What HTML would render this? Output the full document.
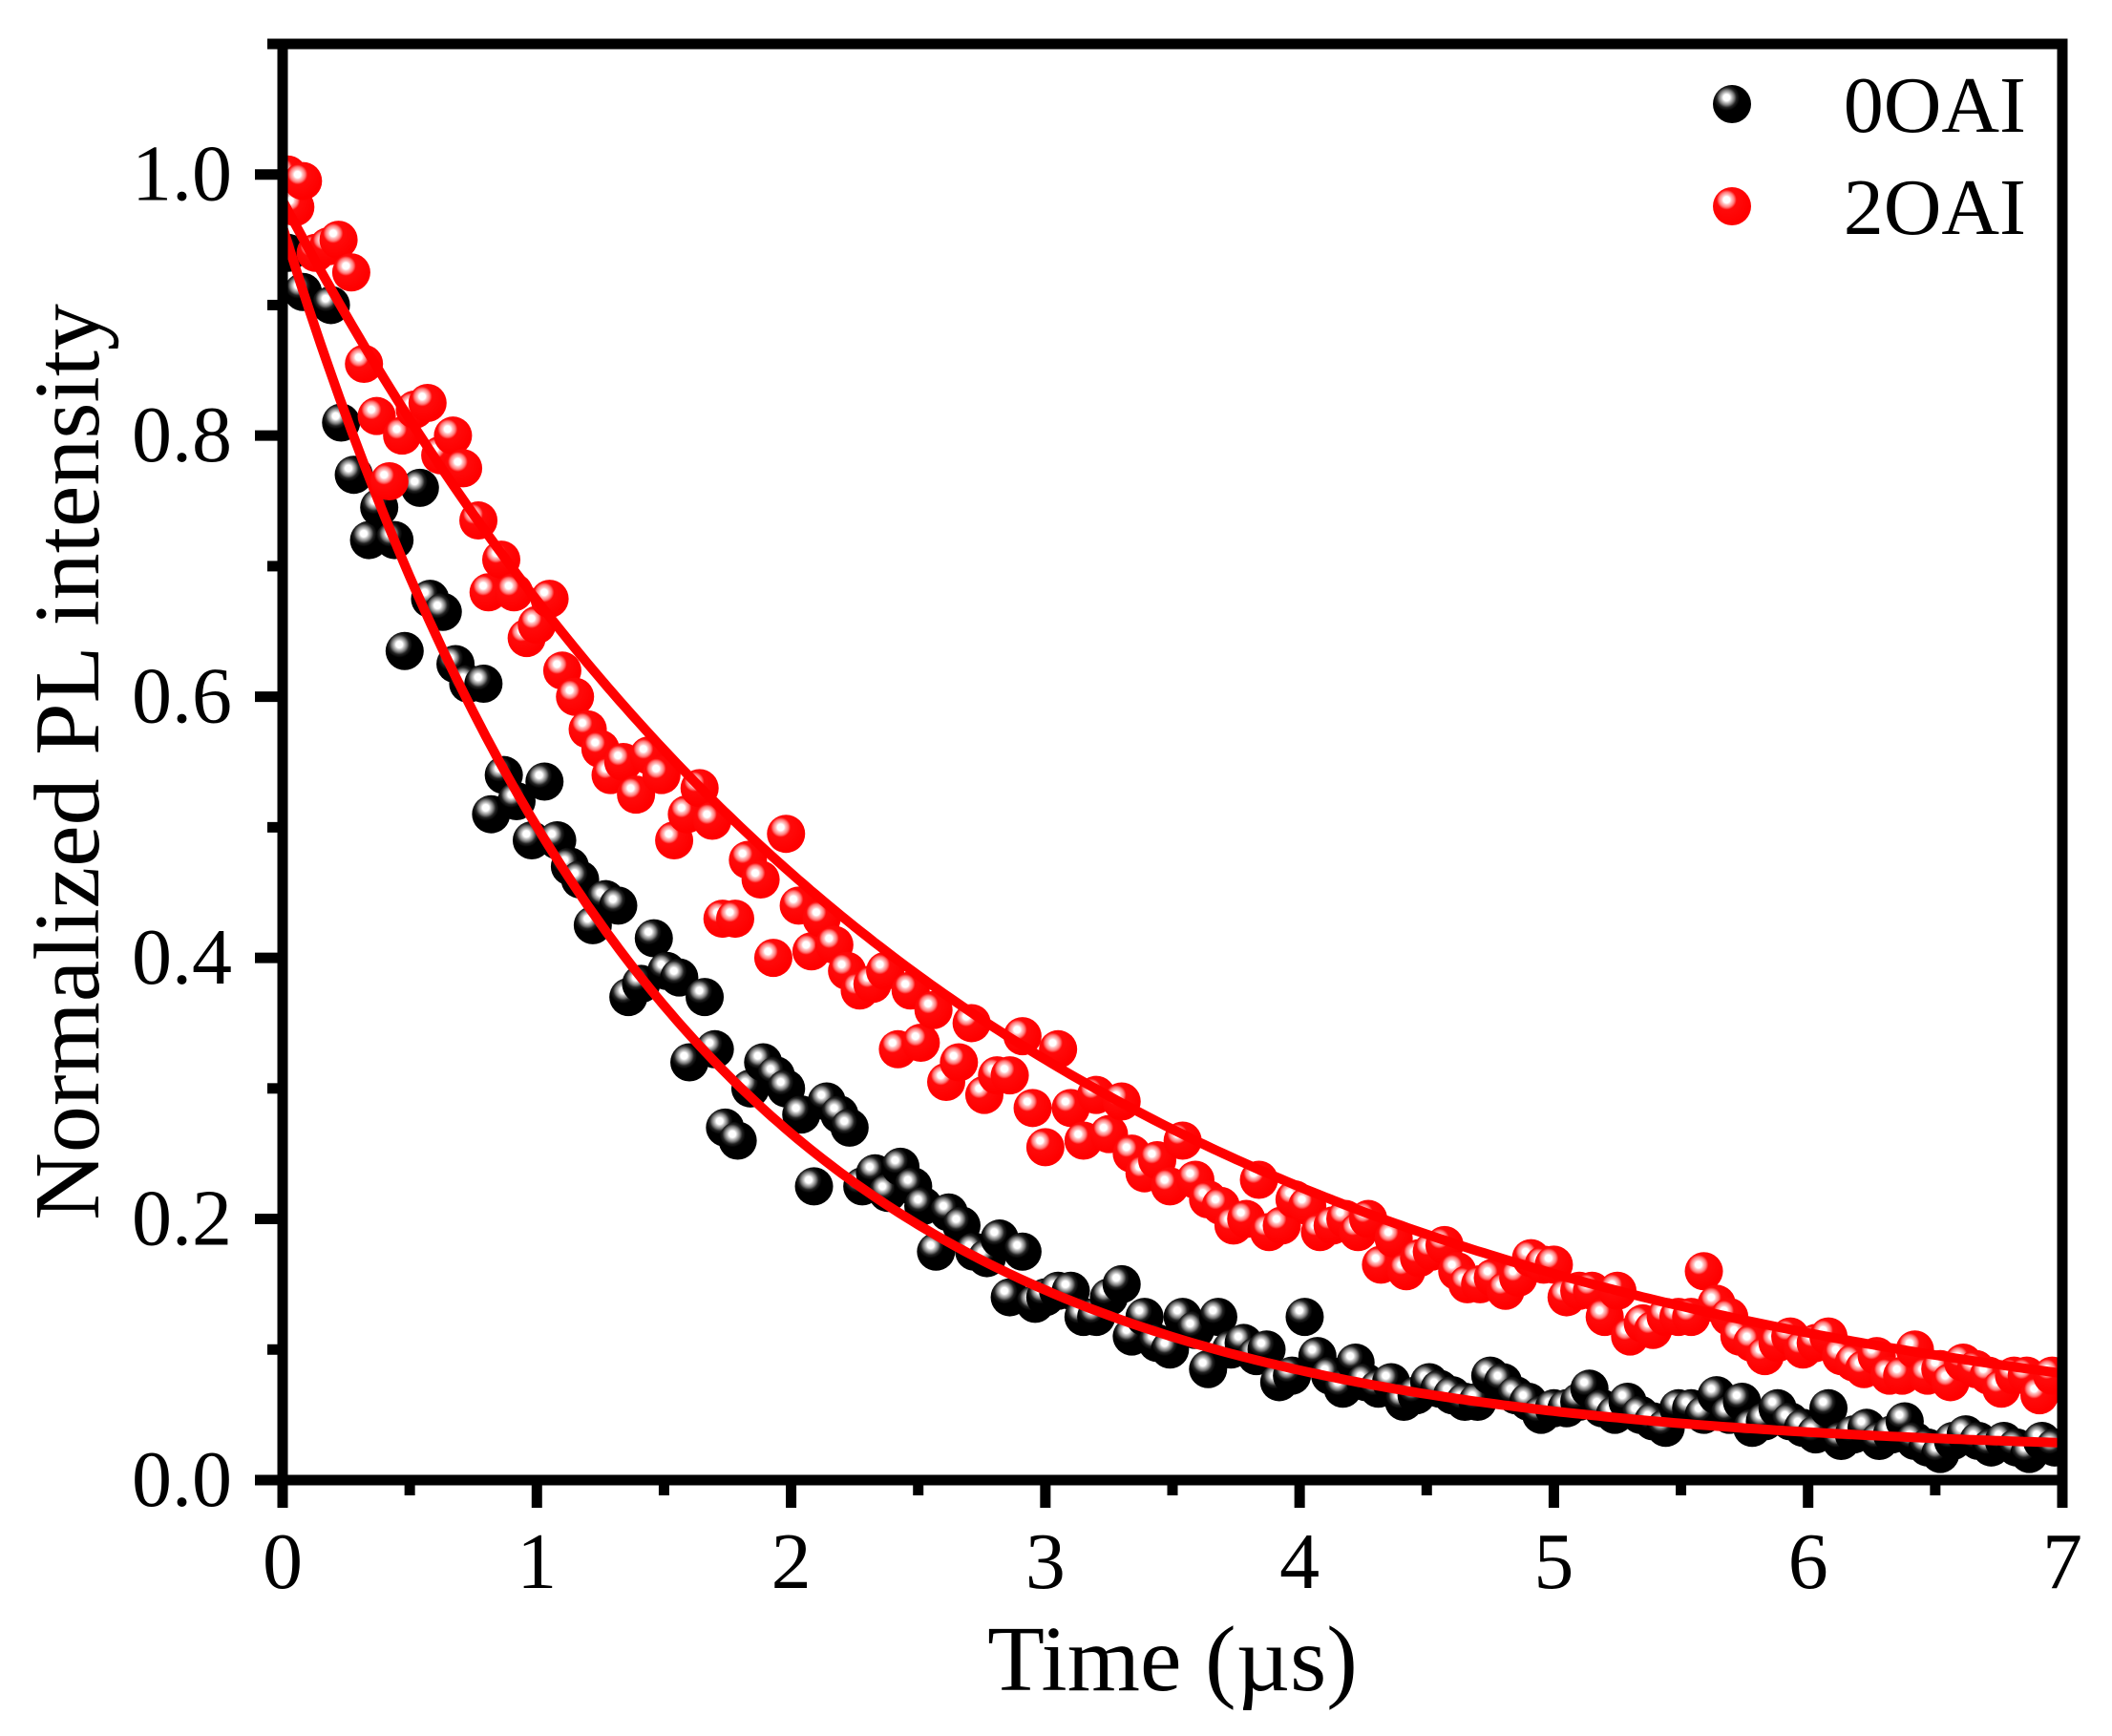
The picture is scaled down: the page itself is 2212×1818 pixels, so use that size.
<!DOCTYPE html>
<html><head><meta charset="utf-8"><style>
html,body{margin:0;padding:0;background:#fff;}
svg{display:block;font-family:"Liberation Serif",serif;}
</style></head><body>
<svg id="chart" width="2212" height="1818" viewBox="0 0 2212 1818" xmlns="http://www.w3.org/2000/svg">
<defs>
<radialGradient id="gBlack" cx="0.36" cy="0.33" r="0.62" fx="0.36" fy="0.33">
<stop offset="0" stop-color="#fff"/><stop offset="0.14" stop-color="#fff"/><stop offset="0.2" stop-color="#cfcfcf"/><stop offset="0.32" stop-color="#7a7a7a"/><stop offset="0.42" stop-color="#222"/><stop offset="0.55" stop-color="#000"/><stop offset="1" stop-color="#000"/>
</radialGradient>
<radialGradient id="gRed" cx="0.36" cy="0.33" r="0.62" fx="0.36" fy="0.33">
<stop offset="0" stop-color="#fff"/><stop offset="0.14" stop-color="#fff"/><stop offset="0.2" stop-color="#ffc8c8"/><stop offset="0.32" stop-color="#ff7a7a"/><stop offset="0.42" stop-color="#ff0a0a"/><stop offset="1" stop-color="#ff0000"/>
</radialGradient>
<clipPath id="plotClip"><rect x="296" y="46" width="1864" height="1504"/></clipPath>
</defs>
<g id="plot" clip-path="url(#plotClip)"></g>
<g id="axes"></g>
<text x="1228" y="1770" text-anchor="middle" font-size="98">Time (µs)</text>
<text transform="translate(103,798) rotate(-90)" text-anchor="middle" font-size="98">Normalized PL intensity</text>
<g>
<circle cx="1814" cy="109" r="20" fill="url(#gBlack)"/>
<text x="2122" y="138" text-anchor="end" font-size="84">0OAI</text>
<circle cx="1814" cy="216" r="20" fill="url(#gRed)"/>
<text x="2122" y="245" text-anchor="end" font-size="84">2OAI</text>
</g>
</svg>
<script>
const xTicks = [0,1,2,3,4,5,6,7];
const yTicks = [0.0,0.2,0.4,0.6,0.8,1.0];
const yTickLabels = ["0.0","0.2","0.4","0.6","0.8","1.0"];
const t0 = [0.02,0.08,0.19,0.23,0.28,0.34,0.38,0.44,0.48,0.54,0.58,0.63,0.68,0.73,0.79,0.82,0.87,0.92,0.98,1.03,1.08,1.13,1.17,1.22,1.27,1.32,1.36,1.41,1.46,1.51,1.56,1.6,1.66,1.7,1.74,1.79,1.84,1.89,1.94,1.98,2.04,2.09,2.14,2.19,2.23,2.28,2.33,2.38,2.43,2.48,2.52,2.57,2.62,2.67,2.72,2.77,2.82,2.86,2.91,2.96,3.0,3.05,3.1,3.15,3.2,3.25,3.3,3.34,3.39,3.44,3.49,3.54,3.59,3.64,3.68,3.73,3.78,3.83,3.87,3.92,3.97,4.02,4.07,4.12,4.17,4.22,4.26,4.31,4.36,4.41,4.46,4.51,4.55,4.6,4.65,4.7,4.75,4.8,4.85,4.9,4.95,5.0,5.05,5.1,5.14,5.19,5.24,5.29,5.34,5.39,5.44,5.49,5.54,5.59,5.64,5.69,5.74,5.78,5.83,5.88,5.93,5.98,6.03,6.08,6.13,6.18,6.23,6.28,6.33,6.38,6.42,6.47,6.52,6.57,6.62,6.67,6.72,6.77,6.82,6.87,6.92,6.97];
const v0 = [0.94,0.91,0.90,0.81,0.77,0.72,0.745,0.72,0.635,0.76,0.675,0.665,0.625,0.61,0.61,0.51,0.54,0.52,0.49,0.535,0.49,0.47,0.46,0.425,0.445,0.44,0.37,0.38,0.415,0.39,0.385,0.32,0.37,0.33,0.27,0.26,0.30,0.32,0.31,0.30,0.28,0.225,0.29,0.28,0.27,0.225,0.235,0.22,0.24,0.225,0.21,0.175,0.205,0.195,0.175,0.17,0.185,0.14,0.175,0.135,0.14,0.145,0.145,0.125,0.125,0.14,0.15,0.11,0.125,0.105,0.10,0.125,0.115,0.085,0.125,0.10,0.105,0.095,0.10,0.075,0.08,0.125,0.095,0.08,0.07,0.09,0.075,0.07,0.075,0.06,0.065,0.075,0.07,0.065,0.06,0.06,0.08,0.075,0.065,0.06,0.05,0.055,0.055,0.06,0.07,0.055,0.05,0.06,0.05,0.045,0.04,0.055,0.055,0.05,0.065,0.05,0.06,0.04,0.045,0.055,0.045,0.04,0.035,0.055,0.03,0.035,0.04,0.03,0.035,0.045,0.03,0.025,0.02,0.03,0.035,0.03,0.025,0.03,0.025,0.02,0.03,0.025];
const t2 = [0.02,0.05,0.08,0.13,0.18,0.22,0.27,0.32,0.37,0.42,0.47,0.52,0.57,0.62,0.67,0.71,0.77,0.81,0.86,0.91,0.96,1.0,1.05,1.1,1.15,1.2,1.25,1.29,1.34,1.39,1.44,1.49,1.54,1.59,1.64,1.69,1.73,1.78,1.83,1.88,1.93,1.98,2.03,2.08,2.12,2.17,2.22,2.27,2.32,2.37,2.42,2.47,2.51,2.56,2.61,2.66,2.71,2.76,2.81,2.86,2.91,2.95,3.0,3.05,3.1,3.15,3.2,3.25,3.3,3.34,3.39,3.44,3.49,3.54,3.59,3.64,3.69,3.74,3.79,3.84,3.88,3.93,3.98,4.03,4.08,4.13,4.18,4.23,4.27,4.32,4.37,4.42,4.47,4.52,4.57,4.62,4.66,4.71,4.76,4.81,4.86,4.91,4.96,5.0,5.05,5.1,5.15,5.2,5.25,5.3,5.35,5.39,5.44,5.49,5.54,5.59,5.64,5.69,5.73,5.78,5.83,5.88,5.93,5.98,6.03,6.08,6.13,6.18,6.22,6.27,6.32,6.37,6.42,6.47,6.52,6.56,6.61,6.66,6.71,6.76,6.81,6.86,6.91,6.96];
const v2 = [1.0,0.975,0.995,0.94,0.945,0.95,0.925,0.855,0.815,0.765,0.80,0.82,0.825,0.785,0.80,0.775,0.735,0.68,0.705,0.68,0.645,0.655,0.675,0.62,0.60,0.575,0.56,0.54,0.55,0.525,0.555,0.54,0.49,0.51,0.53,0.505,0.43,0.43,0.475,0.46,0.40,0.495,0.44,0.405,0.43,0.41,0.39,0.375,0.38,0.39,0.33,0.375,0.335,0.36,0.305,0.32,0.35,0.295,0.31,0.31,0.34,0.285,0.255,0.33,0.285,0.26,0.295,0.265,0.29,0.25,0.235,0.245,0.225,0.26,0.23,0.215,0.21,0.195,0.20,0.23,0.19,0.195,0.215,0.21,0.19,0.195,0.20,0.19,0.20,0.165,0.185,0.16,0.17,0.175,0.18,0.16,0.15,0.15,0.155,0.145,0.155,0.17,0.165,0.165,0.14,0.145,0.145,0.125,0.145,0.11,0.12,0.115,0.125,0.125,0.125,0.16,0.135,0.125,0.11,0.105,0.095,0.105,0.11,0.10,0.105,0.11,0.095,0.09,0.085,0.095,0.08,0.08,0.10,0.08,0.085,0.075,0.09,0.085,0.08,0.07,0.08,0.08,0.065,0.08];
// single-exponential fit parameters [A, tau, y0]
const fit0 = [0.94, 1.49, 0.02];
const fit2 = [0.965, 2.62, 0.015];

const NS = "http://www.w3.org/2000/svg";
const X0 = 296, X1 = 2160, Y0 = 1550, Y1 = 46, XMAX = 7, YMAX = 1.1;
function sx(t){ return X0 + (X1 - X0) * t / XMAX; }
function sy(v){ return Y0 - (Y0 - Y1) * v / YMAX; }
function mk(tag, attrs, parent){ const e = document.createElementNS(NS, tag); for (const k in attrs) e.setAttribute(k, attrs[k]); parent.appendChild(e); return e; }
const plot = document.getElementById('plot');
const axes = document.getElementById('axes');

function drawPoints(ts, vs, grad, name){
  const g = mk('g', {}, plot);
  
  
  ts.forEach((t, i) => {
    const c = mk('circle', {cx: sx(t), cy: sy(vs[i]), r: 20, fill: 'url(#' + grad + ')'}, g);
    
    
  });
}
function drawFit(p, name){
  let d = '';
  for (let i = 0; i <= 280; i++) {
    const t = XMAX * i / 280;
    const v = p[0] * Math.exp(-t / p[1]) + p[2];
    d += (i ? 'L' : 'M') + sx(t).toFixed(1) + ',' + sy(v).toFixed(1);
  }
  const path = mk('path', {d: d, fill: 'none', stroke: '#ff0000', 'stroke-width': 10}, plot);
  
  
}
drawPoints(t0, v0, 'gBlack', 'series-0oai');
drawFit(fit0, 'fit-line-0oai');
drawPoints(t2, v2, 'gRed', 'series-2oai');
drawFit(fit2, 'fit-line-2oai');

const frame = mk('rect', {x: 296, y: 46, width: 1864, height: 1504, fill: 'none', stroke: '#000', 'stroke-width': 11}, axes);


xTicks.forEach(t => {
  const tk = mk('line', {x1: sx(t), x2: sx(t), y1: Y0, y2: Y0 + 29, stroke: '#000', 'stroke-width': 11}, axes);
  
  
  const lb = mk('text', {x: sx(t), y: 1663, 'text-anchor': 'middle', 'font-size': 84}, axes);
  lb.textContent = String(t);
  
  
  if (t < XMAX) {
    const mt = mk('line', {x1: sx(t + 0.5), x2: sx(t + 0.5), y1: Y0, y2: Y0 + 16, stroke: '#000', 'stroke-width': 11}, axes);
    
    
  }
});
yTicks.forEach((v, i) => {
  const tk = mk('line', {x1: X0 - 29, x2: X0, y1: sy(v), y2: sy(v), stroke: '#000', 'stroke-width': 11}, axes);
  
  
  const lb = mk('text', {x: 243, y: sy(v) + 27, 'text-anchor': 'end', 'font-size': 84}, axes);
  lb.textContent = yTickLabels[i];
  
  
  const mt = mk('line', {x1: X0 - 16, x2: X0, y1: sy(v + 0.1), y2: sy(v + 0.1), stroke: '#000', 'stroke-width': 11}, axes);
  
  
});
</script>
</body></html>
